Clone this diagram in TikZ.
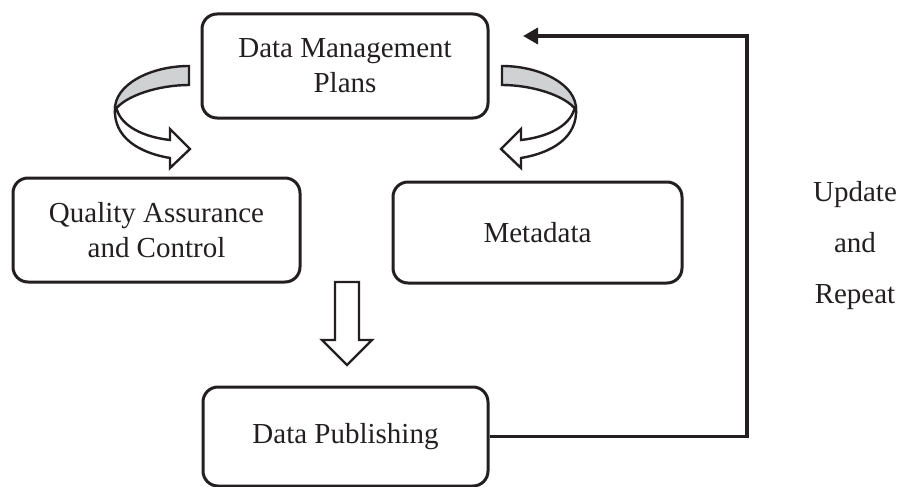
\documentclass[tikz,border=0pt]{standalone}
\usepackage{fontspec}
\setmainfont{Liberation Serif}
\usetikzlibrary{arrows.meta}
\definecolor{ribbon}{RGB}{208,209,211}
\definecolor{ink}{RGB}{35,31,32}
\begin{document}
\begin{tikzpicture}[x=1pt,y=-1pt,
  box/.style={draw=ink, line width=3pt, rounded corners=15pt, align=center,
    font=\fontsize{29}{35}\selectfont, text=ink, inner sep=0pt},
  bigarrow/.style={draw=ink, line width=2.4pt, line join=miter, fill=white},
  feed/.style={draw=ink, line width=3.5pt, -{Triangle[length=15pt,width=16pt]}}]
\useasboundingbox (0,0) rectangle (902,487);
% boxes
\node[box, minimum width=286pt, minimum height=104pt] (dmp) at (345,66) {Data Management\\Plans};
\node[box, minimum width=287pt, minimum height=104pt] (qac) at (156.5,230) {Quality Assurance\\and Control};
\node[box, minimum width=289pt, minimum height=101pt] (meta) at (537.5,232.5) {Metadata};
\node[box, minimum width=285pt, minimum height=99pt] (pub) at (345.5,436.5) {Data Publishing};
% feedback connector
\coordinate (tip) at (523,36);
\coordinate (c1) at (747,0 |- pub.east);
\draw[feed] (pub.east) -- (c1) -- (c1 |- tip) -- (tip);
\node[font=\fontsize{29}{51}\selectfont, text=ink, align=center] (upd) at (855,246) {Update\\and\\Repeat};
% curved ribbon arrows
\foreach \s/\m in {0/1, 691/-1}{
\begin{scope}[shift={(\s,0)}, xscale=\m]
\path[bigarrow] (115,108) .. controls (113,138) and (140,153) .. (170,158) -- (170,168) -- (190,149) -- (170,129) -- (170,140) .. controls (143,137) and (122,126) .. (117,110) -- cycle;
\path[bigarrow, fill=ribbon] (189,66) .. controls (150,66) and (114,85) .. (115,110) .. controls (125,96) and (158,85) .. (189,85) -- cycle;
\end{scope}
}
% down arrow
\path[bigarrow] (335,282) -- (335,340) -- (322,340) -- (347,365) -- (372,340) -- (359,340) -- (359,282) -- cycle;
\end{tikzpicture}
\end{document}
